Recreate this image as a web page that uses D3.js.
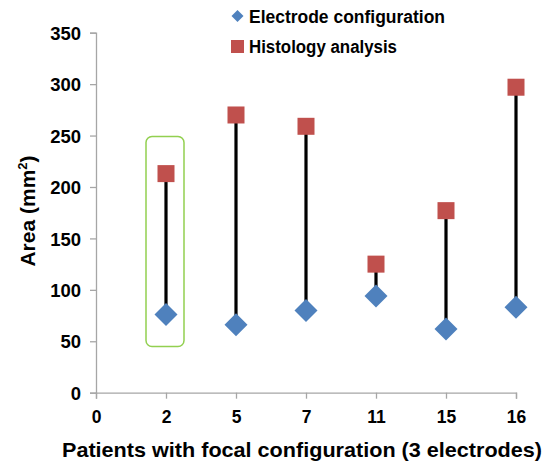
<!DOCTYPE html>
<html><head><meta charset="utf-8">
<script src="https://cdn.jsdelivr.net/npm/d3@7"></script>
<style>body{margin:0;background:#fff;}svg{display:block;font-family:"Liberation Sans",Arial,sans-serif;font-weight:bold;}</style>
</head><body><svg id="c" width="542" height="467"></svg>
<script>
const tickLabels = ["0","2","5","7","11","15","16"];
const patients = ["2","5","7","11","15","16"];
const electrode = [76, 66, 80, 94, 62, 83];
const histology = [213, 270, 259, 125, 177, 297];
const yTicks = [0,50,100,150,200,250,300,350];
const highlighted = "2";

const svg = d3.select("#c");
const x = d3.scalePoint().domain(tickLabels).range([96, 516]);
const y = d3.scaleLinear().domain([0,350]).range([392.7, 32.7]);
const axisColor = "#a6a6a6";

// y axis
const ya = svg.append("g").attr("transform","translate(96,0)")
  .call(d3.axisLeft(y).tickValues(yTicks).tickSize(6).tickPadding(9));
ya.select(".domain").attr("stroke",axisColor).attr("stroke-width",1.3);
ya.selectAll(".tick line").attr("stroke",axisColor).attr("stroke-width",1.3);
ya.selectAll("text").attr("font-size",18.5).attr("font-weight","bold").attr("font-family","Liberation Sans").attr("fill","#000").attr("dy","0.36em");

// x axis
const xa = svg.append("g").attr("transform","translate(0,392.7)")
  .call(d3.axisBottom(x).tickSize(6).tickPadding(12));
xa.select(".domain").attr("stroke",axisColor).attr("stroke-width",1.3);
xa.selectAll(".tick line").attr("stroke",axisColor).attr("stroke-width",1.3);
xa.selectAll("text").attr("font-size",17.5).attr("font-weight","bold").attr("font-family","Liberation Sans").attr("fill","#000");

// highlight box
const hb = x(highlighted);
svg.append("rect").attr("x",hb-20).attr("y",y(249)).attr("width",38)
  .attr("height",y(45)-y(249)).attr("rx",6).attr("fill","none")
  .attr("stroke","#92D050").attr("stroke-width",1.5);

// drop lines
const data = patients.map((p,i)=>({p,e:electrode[i],h:histology[i]}));
svg.selectAll(".drop").data(data).enter().append("line")
  .attr("x1",d=>x(d.p)).attr("x2",d=>x(d.p))
  .attr("y1",d=>y(d.e)).attr("y2",d=>y(d.h))
  .attr("stroke","#000").attr("stroke-width",3.2);

// squares
const sq = 17;
svg.selectAll(".sq").data(data).enter().append("rect")
  .attr("x",d=>x(d.p)-sq/2).attr("y",d=>y(d.h)-sq/2)
  .attr("width",sq).attr("height",sq).attr("fill","#C0504D");
// diamonds
const dm = 11.5;
svg.selectAll(".dm").data(data).enter().append("path")
  .attr("d",d=>{const cx=x(d.p),cy=y(d.e);return `M${cx},${cy-dm}L${cx+dm},${cy}L${cx},${cy+dm}L${cx-dm},${cy}Z`;})
  .attr("fill","#4F81BD");

// legend
svg.append("path").attr("d","M237.5,10L243.5,16L237.5,22L231.5,16Z").attr("fill","#4F81BD");
svg.append("text").attr("x",249).attr("y",22.5).attr("font-size",17.5).attr("textLength",196).attr("lengthAdjust","spacingAndGlyphs").text("Electrode configuration");
svg.append("rect").attr("x",231).attr("y",40).attr("width",13).attr("height",13).attr("fill","#C0504D");
svg.append("text").attr("x",249).attr("y",52.5).attr("font-size",17.5).attr("textLength",148).attr("lengthAdjust","spacingAndGlyphs").text("Histology analysis");

// axis titles
svg.append("text").attr("x",302).attr("y",457).attr("text-anchor","middle").attr("font-size",20.5)
  .attr("textLength",480).attr("lengthAdjust","spacingAndGlyphs").text("Patients with focal configuration (3 electrodes)");
const yt = svg.append("text").attr("transform","translate(35,211) rotate(-90)").attr("text-anchor","middle").attr("font-size",21);
yt.append("tspan").text("Area (mm");
yt.append("tspan").attr("font-size",13).attr("dy",-8).text("2");
yt.append("tspan").attr("dy",8).text(")");
</script></body></html>
